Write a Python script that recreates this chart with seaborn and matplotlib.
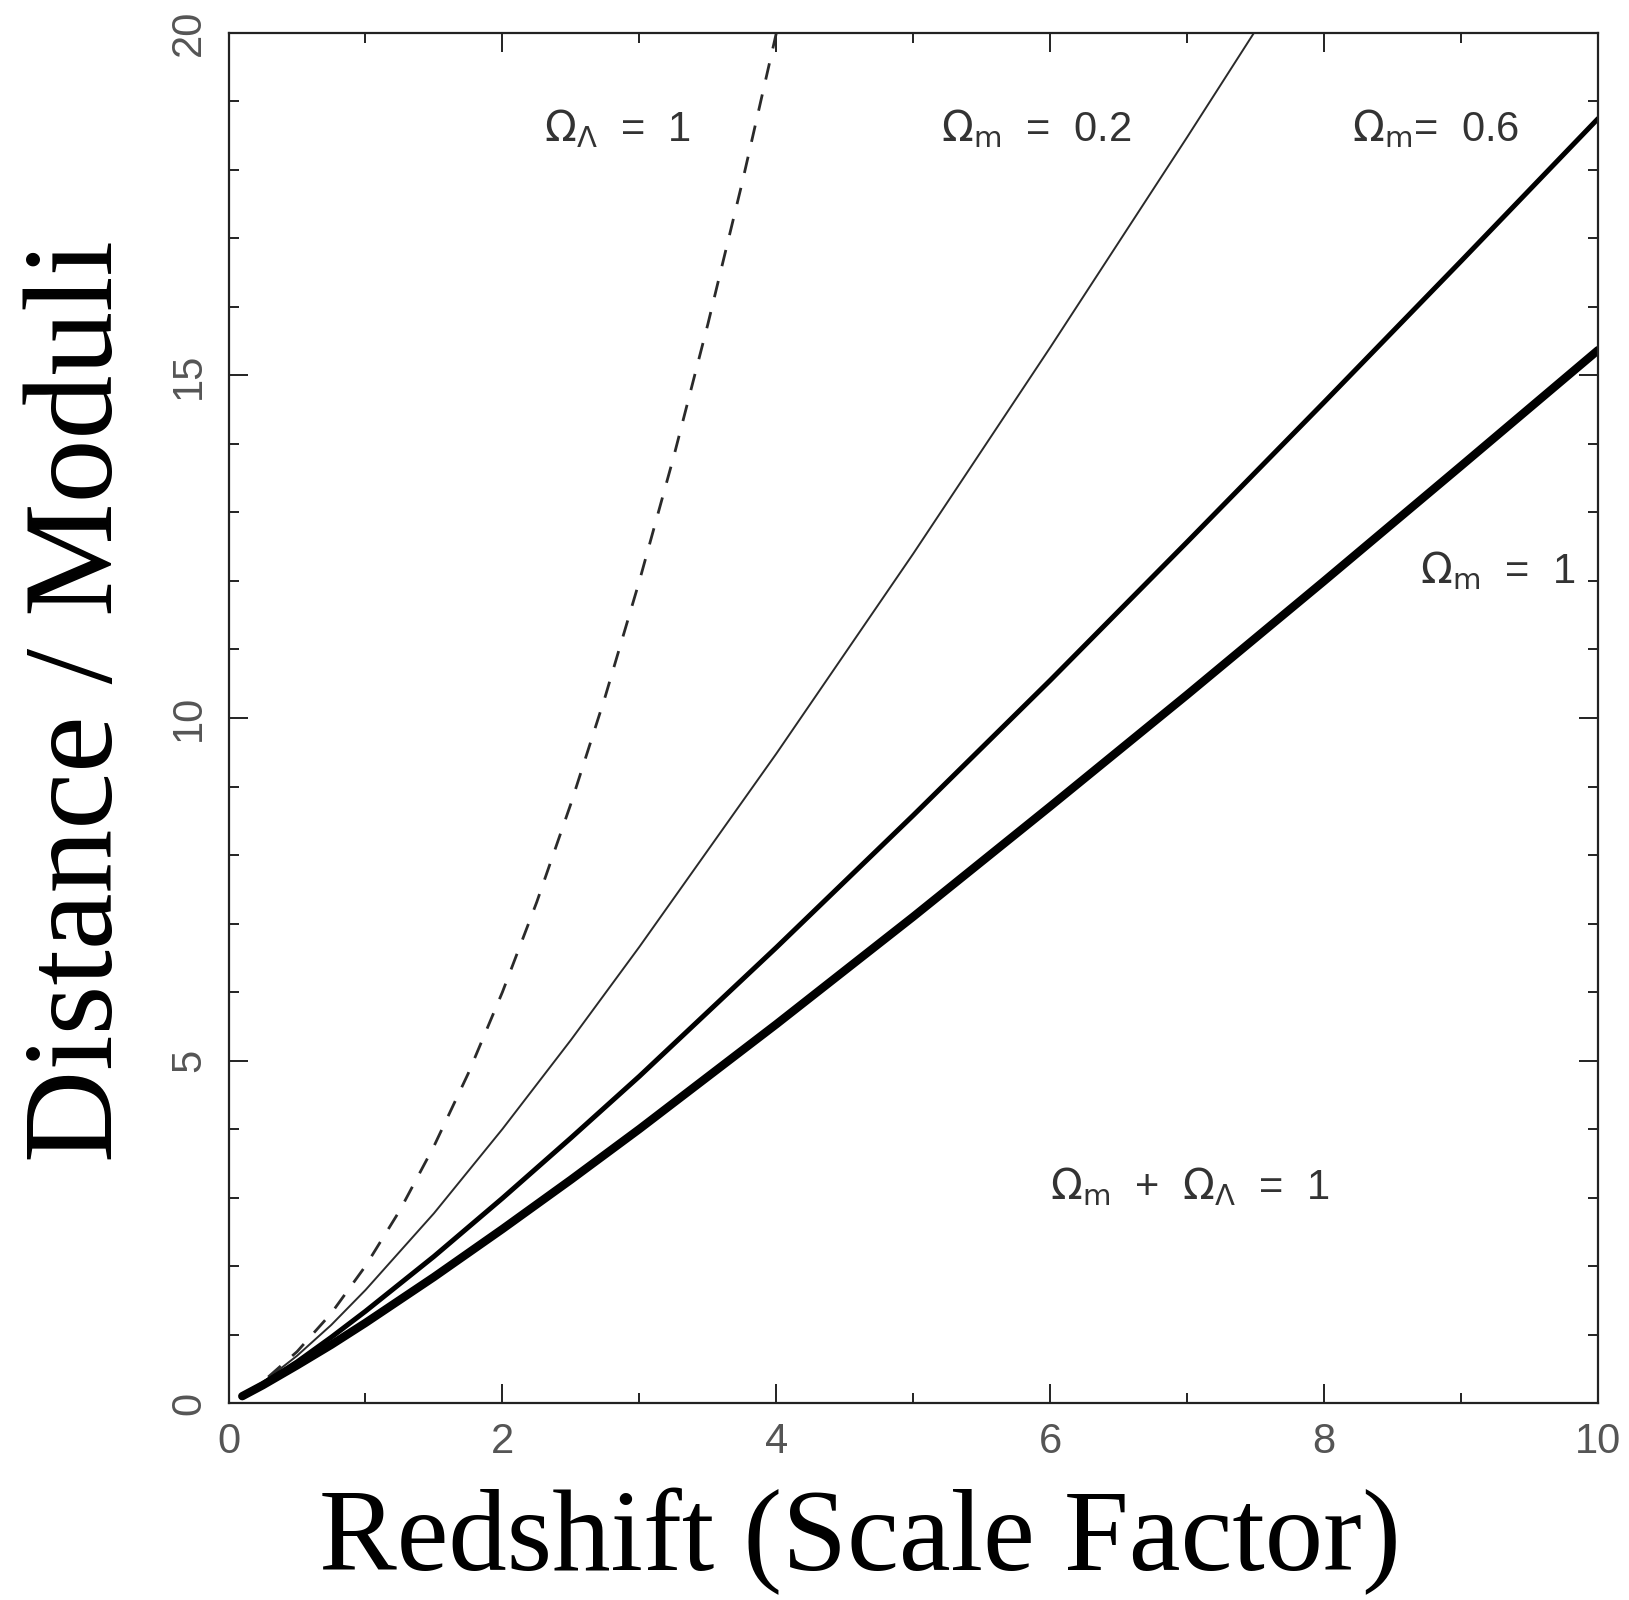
import numpy as np
import pandas as pd
import matplotlib
matplotlib.use("Agg")
import matplotlib.pyplot as plt
import seaborn as sns

# Luminosity distance (c/H0 units) for each model
z_lambda = [0.1, 0.25, 0.5, 0.75, 1.0, 1.25, 1.5, 1.75, 2.0, 2.25, 2.5, 2.75,
            3.0, 3.25, 3.5, 3.75, 4.0, 4.05]
d_lambda = [0.11, 0.31, 0.75, 1.31, 2.0, 2.81, 3.75, 4.81, 6.0, 7.31, 8.75, 10.31,
            12.0, 13.81, 15.75, 17.81, 20.0, 20.45]

z_m02 = [0.1, 0.25, 0.5, 0.75, 1.0, 1.5, 2.0, 2.5, 3.0, 4.0, 5.0, 6.0, 7.0, 7.5, 8.0]
d_m02 = [0.11, 0.30, 0.69, 1.14, 1.65, 2.77, 4.00, 5.30, 6.66, 9.48, 12.40, 15.41,
         18.48, 20.04, 21.61]

z_m06 = [0.1, 0.25, 0.5, 0.75, 1.0, 1.5, 2.0, 2.5, 3.0, 4.0, 5.0, 6.0, 7.0, 8.0, 9.0, 10.0]
d_m06 = [0.105, 0.28, 0.60, 0.96, 1.34, 2.14, 2.99, 3.87, 4.77, 6.65, 8.58, 10.55,
         12.57, 14.61, 16.67, 18.75]

z_m1 = [0.1, 0.25, 0.5, 0.75, 1.0, 1.5, 2.0, 2.5, 3.0, 4.0, 5.0, 6.0, 7.0, 8.0, 9.0, 10.0]
d_m1 = [0.10, 0.26, 0.55, 0.85, 1.17, 1.84, 2.54, 3.26, 4.00, 5.53, 7.10, 8.71,
        10.34, 12.00, 13.68, 15.37]

x_ticks = [0, 2, 4, 6, 8, 10]
y_ticks = [0, 5, 10, 15, 20]

sns.set_theme(style="ticks")
plt.rcParams["font.family"] = ["Liberation Sans", "DejaVu Sans"]

fig = plt.figure(figsize=(16.29, 16), dpi=100)
ax = fig.add_axes([0.1403, 0.1231, 0.8407, 0.8563])

sns.lineplot(x=z_lambda, y=d_lambda, ax=ax, color="#2a2a2a", lw=2.0,
             dashes=False, sort=False)
ax.lines[-1].set_dashes((6, 5.5))
sns.lineplot(x=z_m02, y=d_m02, ax=ax, color="#2a2a2a", lw=1.4, sort=False)
sns.lineplot(x=z_m06, y=d_m06, ax=ax, color="black", lw=3.6, sort=False)
sns.lineplot(x=z_m1, y=d_m1, ax=ax, color="black", lw=6.0, sort=False)

ax.set_xlim(0, 10)
ax.set_ylim(0, 20)
ax.set_xticks(x_ticks)
ax.set_yticks(y_ticks)
ax.set_xticks(np.arange(1, 10, 2), minor=True)
ax.set_yticks([v for v in range(1, 20) if v % 5], minor=True)
ax.set_xticklabels([str(v) for v in x_ticks])
ax.set_yticklabels([str(v) for v in y_ticks])

for s in ax.spines.values():
    s.set_visible(True)
    s.set_linewidth(1.6)
    s.set_color("#222222")
ax.tick_params(which="both", direction="in", top=True, right=True,
               width=1.4, color="#222222")
ax.tick_params(which="major", length=14)
ax.tick_params(which="minor", length=7)
ax.tick_params(axis="x", which="major", labelsize=30, labelcolor="#555555", pad=14)
ax.tick_params(axis="y", which="major", labelsize=30, labelcolor="#555555", pad=14,
               labelrotation=90)
for lab in ax.get_yticklabels():
    lab.set_va("center")

ax.set_xlabel("Redshift (Scale Factor)", fontfamily="Liberation Serif",
              fontsize=84, color="black")
ax.xaxis.label.set_va("baseline")
ax.xaxis.set_label_coords(0.461, -0.122)
ax.set_ylabel("Distance / Moduli", fontfamily="Liberation Serif",
              fontsize=92, color="black")
ax.yaxis.label.set_va("baseline")
ax.yaxis.set_label_coords(-0.085, 0.512)

note = dict(fontsize=30, color="#333333", va="center", ha="left")
ax.text(2.3, 18.6, r"$\Omega_\Lambda$  =  1", **note)
ax.text(5.2, 18.6, r"$\Omega_\mathrm{m}$  =  0.2", **note)
ax.text(8.2, 18.6, r"$\Omega_\mathrm{m}$=  0.6", **note)
ax.text(8.7, 12.15, r"$\Omega_\mathrm{m}$  =  1", **note)
ax.text(6.0, 3.16, r"$\Omega_\mathrm{m}$  +  $\Omega_\Lambda$  =  1", **note)

fig.savefig("out.png", dpi=100, facecolor="white")
